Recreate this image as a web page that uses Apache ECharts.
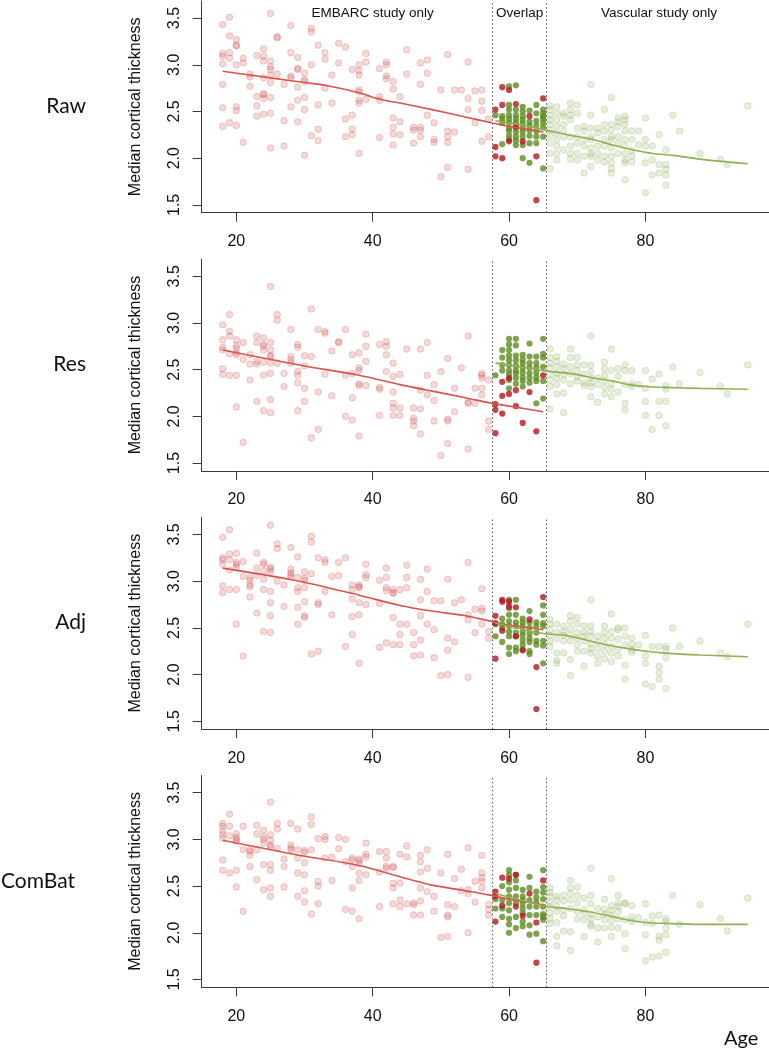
<!DOCTYPE html>
<html><head><meta charset="utf-8">
<script src="https://cdn.jsdelivr.net/npm/echarts@6/dist/echarts.min.js"></script>
<style>html,body{margin:0;padding:0;background:#fff}#c{width:769px;height:1050px}</style>
</head><body><div id="c"></div><script>
// ---------- labels & ticks ----------
const panelNames = ['Raw', 'Res', 'Adj', 'ComBat'];
const xTicks = [20, 40, 60, 80];
const yTicks = [1.5, 2.0, 2.5, 3.0, 3.5];
const regionLabels = ['EMBARC study only', 'Overlap', 'Vascular study only'];
const overlapBounds = [57.5, 65.5];

// ---------- Raw ----------
const rawEmbarc = [[18,3.43],[19,3.51],[18,3.12],[18,3.09],[18,3.01],[18,2.79],[18,2.54],[18,2.34],
[19,3.31],[19,3.13],[19,3.07],[19,2.38],[20,3.27],[20,3.21],[20,3.2],[20,3.0],[20,2.55],[20,2.51],[20,2.35],
[21,3.07],[21,3.02],[21,2.17],[22,2.9],[22,2.87],[22,2.77],[23,3.1],[23,2.66],[23,2.56],[23,2.45],
[24,3.17],[24,3.09],[24,3.04],[24,2.86],[24,2.69],[24,2.68],[24,2.64],[24,2.47],
[25,3.55],[25,3.04],[25,2.98],[25,2.95],[25,2.89],[25,2.81],[25,2.65],[25,2.48],[25,2.11],
[26,3.3],[26,3.29],[26,2.9],[27,2.79],[27,2.4],[27,2.13],[28,3.42],[28,3.13],[28,2.88],[28,2.86],[28,2.55],
[29,3.08],[29,2.96],[29,2.95],[29,2.76],[29,2.62],[29,2.39],[30,2.91],[30,2.84],[30,2.82],[30,2.65],[30,2.52],[30,2.03],
[31,3.39],[31,3.35],[31,3.0],[31,2.24],[32,3.21],[32,2.57],[32,2.31],[32,2.19],[33,3.13],[33,3.06],[33,2.75],
[34,2.89],[34,2.59],[35,3.23],[35,3.02],[36,3.19],[36,2.42],[36,2.23],[37,2.95],[37,2.46],[37,2.31],[37,2.25],
[38,3.0],[38,2.94],[38,2.89],[38,2.73],[38,2.71],[38,2.62],[38,2.59],[38,2.05],[39,3.12],[39,3.03],[39,2.63],
[41,2.96],[41,2.66],[41,2.62],[41,2.22],[42,3.03],[42,3.0],[42,2.88],[42,2.85],
[43,2.82],[43,2.74],[43,2.43],[43,2.33],[43,2.26],[43,2.14],[44,2.66],[44,2.39],[44,2.25],[45,3.16],[45,2.9],
[46,2.33],[46,2.3],[46,2.16],[47,3.02],[47,2.79],[47,2.33],[47,2.3],[47,2.23],[48,3.05],[48,2.91],[48,2.46],
[49,2.38],[49,2.2],[49,2.17],[50,2.73],[50,1.8],[51,3.11],[51,2.29],[51,2.23],[51,2.17],[51,1.9],
[52,2.73],[52,2.28],[53,2.73],[54,3.03],[54,2.64],[54,2.52],[54,1.88],[55,2.72],[55,2.38],
[56,2.73],[56,2.61],[56,2.51],[56,2.18],[57,2.42],[57,2.23]];
const rawOverlapRed = [[58,2.52],[58,2.12],[58,2.02],[59,2.76],[59,2.57],[59,2.0],[60,2.73],[60,2.18],[61,2.58],[61,2.34],[62,2.18],[63,2.45],[64,2.02],[64,1.55],[65,2.64]];
const rawOverlapGreen = [[60,2.77],[61,2.78],[58,2.46],[59,2.45],[59,2.42],[59,2.38],[59,2.15],
[60,2.57],[60,2.52],[60,2.46],[60,2.42],[60,2.38],[60,2.32],[60,2.29],[60,2.24],[60,2.2],
[61,2.52],[61,2.46],[61,2.42],[61,2.38],[61,2.32],[61,2.28],[61,2.23],[61,2.19],[61,2.14],
[62,2.55],[62,2.5],[62,2.45],[62,2.41],[62,2.37],[62,2.32],[62,2.28],[62,2.23],[62,2.14],[62,2.0],
[63,2.51],[63,2.39],[63,2.35],[63,2.3],[63,2.24],[63,2.16],[63,1.95],
[64,2.57],[64,2.48],[64,2.4],[64,2.35],[64,2.29],[64,2.23],[64,2.16],
[65,2.52],[65,2.48],[65,2.45],[65,2.42],[65,2.38],[65,2.33],[65,2.23],[65,1.89]];
const rawVascular = [[66,2.56],[66,2.52],[66,2.46],[66,2.41],[66,2.36],[66,2.3],[66,2.24],[66,2.16],[66,2.05],[66,1.89],
[67,2.55],[67,2.48],[67,2.41],[67,2.34],[67,2.27],[67,2.2],[67,2.13],[67,2.05],[67,1.98],
[68,2.48],[68,2.45],[68,2.36],[68,2.29],[68,2.23],[68,2.09],[69,2.59],[69,2.52],[69,2.46],[69,2.41],[69,2.23],[69,2.13],[69,2.05],[69,1.99],
[70,2.57],[70,2.48],[70,2.32],[70,2.23],[70,2.16],[70,2.05],[70,1.98],[71,2.34],[71,2.29],[71,2.2],[71,2.13],[71,2.02],[71,1.84],
[72,2.79],[72,2.46],[72,2.32],[72,2.23],[72,2.2],[72,2.11],[72,2.05],[72,2.02],[72,1.91],[73,2.32],[73,2.27],[73,2.13],[73,2.05],[73,1.98],
[74,2.52],[74,2.36],[74,2.29],[74,2.2],[74,2.13],[74,2.02],[74,1.96],
[75,2.65],[75,2.36],[75,2.3],[75,2.23],[75,2.2],[75,2.11],[75,2.02],[75,1.95],[75,1.89],[75,1.84],
[76,2.43],[76,2.39],[76,2.34],[76,2.23],[76,2.16],[76,2.05],
[77,2.45],[77,2.41],[77,2.36],[77,2.29],[77,2.2],[77,2.13],[77,2.05],[77,1.98],[77,1.95],[77,1.77],
[78,2.29],[78,2.2],[78,2.08],[78,2.02],[78,1.96],[79,2.29],[79,2.14],[80,2.43],[80,2.2],[80,2.13],[80,1.95],[80,1.63],
[81,2.13],[81,1.98],[81,1.82],[82,2.25],[82,1.93],[82,1.84],[83,2.09],[83,1.93],[83,1.88],[83,1.82],[83,1.71],
[84,2.46],[85,2.29],[88,2.05],[91,1.99],[92,1.93],[95,2.56]];
const rawRedLine = [[18,2.93],[25,2.86],[30,2.81],[33,2.78],[38,2.7],[41,2.63],[44,2.59],[48.7,2.52],[53.6,2.44],[57.4,2.38],[60,2.34],[65,2.28]];
const rawGreenLine = [[58,2.4],[62,2.35],[65.4,2.3],[69.3,2.24],[72.3,2.2],[75.2,2.14],[78.1,2.09],[81.1,2.05],[84.1,2.03],[88,1.99],[95,1.94]];

// ---------- Res ----------
const resEmbarc = [[18,2.98],[18,2.82],[18,2.74],[18,2.71],[18,2.51],[18,2.45],[19,3.09],[19,2.91],[19,2.86],[19,2.67],[19,2.44],
[20,2.82],[20,2.76],[20,2.73],[20,2.68],[20,2.66],[20,2.44],[20,2.1],[21,2.79],[21,2.61],[21,1.72],[22,2.66],[22,2.56],[22,2.39],
[23,2.86],[23,2.79],[23,2.59],[23,2.56],[23,2.16],[24,2.84],[24,2.77],[24,2.75],[24,2.71],[24,2.58],[24,2.44],[24,2.06],
[25,3.39],[25,2.79],[25,2.71],[25,2.65],[25,2.64],[25,2.57],[25,2.46],[25,2.18],[25,2.04],[26,3.09],[26,3.03],[26,2.57],
[27,2.46],[27,2.32],[28,2.93],[28,2.64],[28,2.61],[28,2.57],[29,2.77],[29,2.74],[29,2.48],[29,2.44],[29,2.36],[29,2.06],
[30,2.65],[30,2.54],[30,2.3],[30,2.16],[31,3.15],[31,2.64],[31,1.77],[32,2.93],[32,2.26],[32,1.86],[33,2.91],[33,2.89],[33,2.45],
[34,2.7],[34,2.22],[35,2.8],[35,2.79],[36,2.93],[36,2.44],[36,2.0],[37,2.66],[37,2.46],[37,2.2],[37,1.96],
[38,2.68],[38,2.52],[38,2.49],[38,2.35],[38,2.33],[38,1.79],[39,2.88],[39,2.75],[39,2.59],[39,2.33],
[41,2.77],[41,2.31],[41,2.29],[41,2.01],[42,2.8],[42,2.75],[42,2.66],[42,2.48],[43,2.57],[43,2.43],[43,2.26],[43,2.14],[43,2.09],[43,2.01],
[44,2.45],[44,2.09],[44,2.01],[45,2.72],[46,2.09],[46,1.98],[46,1.95],[46,1.9],[47,2.72],[47,2.28],[47,2.08],[47,1.81],
[48,2.79],[48,2.44],[48,2.23],[49,2.34],[49,2.17],[49,1.95],[50,2.48],[50,1.58],[51,2.62],[51,1.97],[51,1.95],[51,1.71],
[52,2.3],[52,2.05],[53,2.52],[54,2.86],[54,2.15],[54,2.14],[54,1.65],[55,2.3],[55,2.14],
[56,2.46],[56,2.44],[56,2.41],[56,2.3],[56,2.23],[57,2.39],[57,1.95],[57,1.86]];
const resOverlapRed = [[58,2.13],[58,2.07],[58,1.82],[59,2.37],[59,2.22],[59,2.03],[60,2.41],[60,2.24],[61,2.28],[61,2.11],[62,1.93],[63,2.26],[64,1.84],[65,2.44]];
const resOverlapGreen = [[58,2.44],[59,2.71],[59,2.63],[59,2.55],[59,2.49],
[60,2.83],[60,2.77],[60,2.71],[60,2.65],[60,2.6],[60,2.55],[60,2.49],[60,2.45],[60,2.39],[60,2.3],
[61,2.83],[61,2.76],[61,2.65],[61,2.6],[61,2.54],[61,2.49],[61,2.46],[61,2.41],[61,2.35],
[62,2.66],[62,2.61],[62,2.57],[62,2.52],[62,2.47],[62,2.42],[62,2.38],[62,2.32],
[63,2.78],[63,2.64],[63,2.57],[63,2.52],[63,2.46],[63,2.41],[63,2.36],
[64,2.64],[64,2.57],[64,2.52],[64,2.47],[64,2.42],[64,2.38],[64,2.14],
[65,2.83],[65,2.67],[65,2.63],[65,2.53],[65,2.38],[65,2.19]];
const resVascular = [[66,2.72],[66,2.63],[66,2.57],[66,2.52],[66,2.45],[66,2.39],[66,2.32],[66,2.08],
[67,2.64],[67,2.59],[67,2.53],[67,2.46],[67,2.41],[67,2.34],[67,2.24],[68,2.56],[68,2.51],[68,2.45],[68,2.39],[68,2.25],[68,2.04],
[69,2.72],[69,2.63],[69,2.53],[69,2.46],[69,2.35],[70,2.63],[70,2.55],[70,2.49],[70,2.42],[70,2.38],
[71,2.55],[71,2.45],[71,2.36],[71,2.33],[72,2.86],[72,2.55],[72,2.48],[72,2.41],[72,2.36],[72,2.32],[72,2.21],
[73,2.41],[73,2.34],[73,2.15],[74,2.58],[74,2.51],[74,2.44],[74,2.38],[74,2.31],[74,2.24],
[75,2.72],[75,2.49],[75,2.35],[75,2.29],[75,2.21],[76,2.51],[76,2.43],[76,2.26],
[77,2.55],[77,2.49],[77,2.34],[77,2.14],[77,2.07],[78,2.49],[78,2.35],[78,2.32],[79,2.34],
[80,2.49],[80,2.3],[80,2.16],[80,2.01],[81,2.4],[81,1.86],[82,2.45],[82,2.16],[82,2.01],
[83,2.33],[83,2.29],[83,2.16],[83,1.9],[84,2.53],[85,2.35],[88,2.47],[91,2.32],[92,2.24],[95,2.55]];
const resRedLine = [[18,2.71],[29.2,2.55],[38,2.44],[44,2.34],[48.7,2.27],[53.6,2.2],[57.4,2.14],[60,2.11],[65,2.05]];
const resGreenLine = [[58,2.57],[60,2.55],[65,2.49],[69.8,2.45],[72.3,2.41],[75.2,2.38],[77.6,2.34],[80.1,2.32],[83,2.31],[88,2.3],[95,2.29]];

// ---------- Adj ----------
const adjEmbarc = [[18,3.47],[18,3.25],[18,3.23],[18,3.18],[18,2.95],[18,2.88],[19,3.55],[19,3.29],[19,3.23],[19,3.12],[19,2.91],
[20,3.3],[20,3.2],[20,3.18],[20,3.15],[20,2.91],[20,2.54],[21,3.21],[21,3.05],[21,2.2],
[22,3.04],[22,3.01],[22,2.96],[22,2.94],[22,2.83],[23,3.3],[23,3.14],[23,3.06],[23,2.66],
[24,3.2],[24,3.18],[24,3.11],[24,3.02],[24,2.91],[24,2.46],[25,3.6],[25,3.15],[25,3.13],[25,3.1],[25,2.89],[25,2.77],[25,2.63],[25,2.45],
[26,3.4],[26,3.35],[26,3.0],[27,2.96],[27,2.73],[28,3.36],[28,3.13],[28,3.09],[28,3.07],[28,3.05],
[29,3.26],[29,3.04],[29,2.93],[29,2.89],[29,2.72],[29,2.54],[30,3.1],[30,3.03],[30,3.01],[30,2.93],[30,2.78],[30,2.63],[30,2.61],
[31,3.48],[31,3.42],[31,3.08],[31,2.22],[32,3.25],[32,2.77],[32,2.75],[32,2.25],[33,3.23],[33,3.2],[33,2.89],
[34,3.05],[34,2.64],[35,3.2],[35,3.06],[36,3.25],[36,2.3],[37,2.96],[37,2.91],[37,2.81],[37,2.62],[37,2.43],
[38,2.96],[38,2.94],[38,2.93],[38,2.77],[38,2.64],[38,2.12],[39,3.18],[39,3.07],[39,3.04],[39,2.75],
[41,3.01],[41,2.76],[41,2.29],[42,3.14],[42,3.04],[42,2.93],[42,2.9],[42,2.34],[43,2.91],[43,2.88],[43,2.87],[43,2.61],[43,2.32],
[44,2.91],[44,2.54],[44,2.43],[44,2.32],[45,3.17],[45,3.04],[45,2.93],[45,2.54],[46,2.45],[46,2.32],[46,2.2],
[47,3.02],[47,2.8],[47,2.63],[47,2.37],[47,2.21],[48,3.13],[48,2.89],[48,2.54],[49,2.79],[49,2.48],[49,2.18],
[50,2.79],[50,1.99],[51,3.02],[51,2.39],[51,2.26],[51,2.0],[52,2.77],[52,2.35],[53,2.8],
[54,3.2],[54,2.64],[54,2.59],[54,1.97],[55,2.7],[55,2.45],[56,2.92],[56,2.71],[56,2.68],[56,2.54],[57,2.46],[57,2.39]];
const adjOverlapRed = [[58,2.63],[58,2.55],[58,2.17],[59,2.8],[59,2.78],[59,2.47],[60,2.78],[60,2.73],[61,2.72],[61,2.41],[62,2.26],[63,2.59],[64,2.08],[64,1.63],[65,2.83]];
const adjOverlapGreen = [[58,2.54],[58,2.41],[59,2.6],[59,2.54],[59,2.5],[59,2.35],
[60,2.8],[60,2.71],[60,2.64],[60,2.57],[60,2.52],[60,2.46],[60,2.41],[60,2.29],[60,2.22],
[61,2.8],[61,2.64],[61,2.56],[61,2.52],[61,2.45],[61,2.41],[61,2.29],[61,2.25],
[62,2.6],[62,2.56],[62,2.52],[62,2.46],[62,2.42],[62,2.37],[62,2.32],[62,2.27],
[63,2.68],[63,2.56],[63,2.5],[63,2.44],[63,2.39],[63,2.35],[63,2.25],[63,2.22],
[64,2.56],[64,2.52],[64,2.45],[64,2.36],[64,2.32],[65,2.74],[65,2.64],[65,2.55],[65,2.52],[65,2.36],[65,2.31],[65,2.12]];
const adjVascular = [[66,2.59],[66,2.54],[66,2.48],[66,2.42],[66,2.36],[66,2.3],[67,2.54],[67,2.45],[67,2.38],[67,2.23],[67,2.15],[67,2.12],
[68,2.52],[68,2.46],[68,2.42],[68,2.36],[68,2.23],[69,2.63],[69,2.57],[69,2.49],[69,2.42],[69,2.36],[69,2.16],[69,1.99],
[70,2.61],[70,2.54],[70,2.45],[70,2.39],[70,2.32],[70,2.25],[71,2.52],[71,2.45],[71,2.41],[71,2.36],[71,2.25],[71,2.09],
[72,2.8],[72,2.52],[72,2.46],[72,2.41],[72,2.33],[72,2.28],[72,2.23],[73,2.41],[73,2.35],[73,2.28],[73,2.2],[73,2.12],
[74,2.52],[74,2.45],[74,2.39],[74,2.32],[74,2.25],[74,2.17],[75,2.65],[75,2.46],[75,2.39],[75,2.3],[75,2.23],[75,2.14],
[76,2.5],[76,2.48],[76,2.38],[76,2.27],[76,2.2],[77,2.5],[77,2.41],[77,2.32],[77,2.1],[77,1.95],
[78,2.39],[78,2.32],[78,2.27],[78,2.24],[79,2.32],[80,2.42],[80,2.2],[80,2.12],[80,1.9],[81,2.3],[81,1.87],
[82,2.3],[82,2.09],[82,2.02],[82,1.95],[83,2.3],[83,2.27],[83,2.18],[83,1.85],[84,2.5],[85,2.3],[88,2.36],[91,2.23],[92,2.19],[95,2.54]];
const adjRedLine = [[18,3.14],[29.2,3.0],[38,2.85],[44,2.74],[48.7,2.68],[53.6,2.63],[57.4,2.57],[60,2.53],[65,2.48]];
const adjGreenLine = [[58,2.55],[65,2.44],[68.3,2.42],[71.3,2.37],[74.2,2.32],[77.2,2.28],[80.1,2.25],[83,2.23],[88,2.21],[95,2.19]];

// ---------- ComBat ----------
const combatEmbarc = [[18,3.17],[18,3.14],[18,3.09],[18,3.05],[18,3.01],[18,2.78],[18,2.67],[19,3.27],[19,3.14],[19,3.04],[19,2.64],
[20,3.06],[20,3.02],[20,3.0],[20,2.98],[20,2.67],[20,2.49],[21,3.14],[21,2.89],[21,2.23],[22,2.89],[22,2.87],[22,2.83],[22,2.71],
[23,3.15],[23,3.06],[23,2.89],[23,2.57],[24,3.1],[24,3.03],[24,3.0],[24,2.96],[24,2.73],[24,2.46],
[25,3.4],[25,3.05],[25,2.99],[25,2.94],[25,2.92],[25,2.73],[25,2.67],[25,2.48],[25,2.39],[26,3.17],[26,3.11],[26,2.9],
[27,2.79],[27,2.71],[27,2.49],[28,3.17],[28,2.94],[28,2.91],[28,2.89],[29,3.11],[29,2.89],[29,2.8],[29,2.64],[29,2.39],
[30,2.88],[30,2.86],[30,2.75],[30,2.62],[30,2.45],[30,2.33],[31,3.24],[31,3.16],[31,2.89],[31,2.2],
[32,3.01],[32,2.55],[32,2.5],[32,2.31],[33,3.03],[33,3.0],[33,2.8],[34,2.81],[34,2.56],[35,3.02],[35,2.9],
[36,3.0],[36,2.76],[36,2.25],[37,2.8],[37,2.78],[37,2.71],[37,2.48],[37,2.23],[38,2.79],[38,2.77],[38,2.74],[38,2.64],[38,2.56],[38,2.15],
[39,2.96],[39,2.84],[39,2.81],[39,2.62],[41,2.87],[41,2.65],[41,2.28],[42,2.87],[42,2.8],[42,2.71],[42,2.69],
[43,2.71],[43,2.7],[43,2.53],[43,2.48],[43,2.31],[44,2.84],[44,2.53],[44,2.35],[44,2.28],[45,2.93],[45,2.81],[45,2.31],
[46,2.32],[46,2.3],[46,2.19],[47,2.83],[47,2.76],[47,2.65],[47,2.48],[47,2.34],[47,2.19],[48,2.89],[48,2.69],[48,2.44],
[49,2.39],[49,2.23],[50,2.64],[50,1.95],[51,2.84],[51,2.3],[51,2.19],[51,2.17],[51,1.96],[52,2.58],[52,2.28],[53,2.68],[53,2.45],
[54,2.91],[54,2.46],[54,2.42],[54,2.0],[55,2.55],[55,2.33],[56,2.83],[56,2.64],[56,2.59],[56,2.55],[56,2.48],[57,2.3],[57,2.25],[57,2.19]];
const combatOverlapRed = [[58,2.44],[58,2.39],[58,2.12],[59,2.59],[59,2.29],[60,2.58],[61,2.62],[61,2.28],[62,2.18],[63,2.42],[64,2.11],[64,1.68],[65,2.56]];
const combatOverlapGreen = [[58,2.36],[58,2.26],[59,2.5],[59,2.35],[59,2.26],[59,2.17],
[60,2.67],[60,2.62],[60,2.54],[60,2.46],[60,2.39],[60,2.32],[60,2.24],[60,2.15],[60,2.09],[60,2.0],
[61,2.62],[61,2.56],[61,2.48],[61,2.39],[61,2.32],[61,2.17],[61,2.05],
[62,2.46],[62,2.39],[62,2.35],[62,2.31],[62,2.26],[62,2.21],[62,2.12],[62,2.07],
[63,2.6],[63,2.48],[63,2.35],[63,2.28],[63,2.19],[63,2.08],[63,1.98],[64,2.44],[64,2.38],[64,2.33],[64,2.28],[64,2.19],[64,1.99],
[65,2.67],[65,2.49],[65,2.43],[65,2.36],[65,2.28],[65,2.2],[65,2.17],[65,2.14],[65,1.91]];
const combatVascular = [[66,2.48],[66,2.43],[66,2.39],[66,2.33],[66,2.28],[66,2.21],[66,2.15],[66,2.1],
[67,2.39],[67,2.35],[67,2.28],[67,2.23],[67,2.11],[67,1.96],[67,1.86],[68,2.4],[68,2.34],[68,2.24],[68,2.18],[68,2.02],
[69,2.56],[69,2.48],[69,2.42],[69,2.35],[69,2.26],[69,2.01],[69,1.81],[70,2.49],[70,2.4],[70,2.32],[70,2.23],[70,2.15],
[71,2.37],[71,2.25],[71,2.21],[71,2.14],[71,1.96],[72,2.69],[72,2.4],[72,2.31],[72,2.2],[72,2.15],[72,2.09],[72,2.07],
[73,2.26],[73,2.17],[73,2.05],[73,1.9],[74,2.36],[74,2.25],[74,2.2],[74,2.14],[74,2.05],
[75,2.58],[75,2.29],[75,2.24],[75,2.19],[75,2.13],[75,2.06],[75,1.96],[76,2.4],[76,2.32],[76,2.28],[76,2.23],[76,2.15],[76,2.05],
[77,2.32],[77,2.31],[77,2.14],[77,1.99],[77,1.83],[78,2.29],[78,2.17],[78,2.12],[79,2.16],
[80,2.31],[80,2.11],[80,1.98],[80,1.7],[81,2.18],[81,2.1],[81,1.74],[82,2.19],[82,1.96],[82,1.92],[82,1.75],
[83,2.15],[83,2.12],[83,2.05],[83,1.98],[83,1.79],[84,2.4],[85,2.09],[88,2.3],[91,2.15],[92,2.02],[95,2.37]];
const combatRedLine = [[18,2.99],[29.2,2.83],[38,2.72],[44,2.6],[48.7,2.51],[53.6,2.45],[57.4,2.4],[60,2.36],[65,2.3]];
const combatGreenLine = [[58,2.42],[65,2.29],[68.3,2.26],[71.3,2.23],[74.2,2.19],[77.2,2.14],[80.1,2.11],[83,2.1],[88,2.09],[95,2.09]];

// ---------- build ----------
const panels = [
  {embarc: rawEmbarc, oRed: rawOverlapRed, oGreen: rawOverlapGreen, vasc: rawVascular, rLine: rawRedLine, gLine: rawGreenLine},
  {embarc: resEmbarc, oRed: resOverlapRed, oGreen: resOverlapGreen, vasc: resVascular, rLine: resRedLine, gLine: resGreenLine},
  {embarc: adjEmbarc, oRed: adjOverlapRed, oGreen: adjOverlapGreen, vasc: adjVascular, rLine: adjRedLine, gLine: adjGreenLine},
  {embarc: combatEmbarc, oRed: combatOverlapRed, oGreen: combatOverlapGreen, vasc: combatVascular, rLine: combatRedLine, gLine: combatGreenLine}
];

const PANEL_STEP = 258.2, PANEL_TOP = 0.9, PANEL_H = 211.8, LEFT = 201.7, WIDTH = 567;
const AX = '#3a3a3a', TXT = '#111';
const tickFont = 'Liberation Sans, Helvetica, Arial, sans-serif';
const rowLabelRight = [86, 86, 86, 75];

const grids = [], xAxes = [], yAxes = [], series = [], graphics = [];
panels.forEach((p, i) => {
  const top = PANEL_TOP + i * PANEL_STEP;
  grids.push({left: LEFT, width: WIDTH, top: top, height: PANEL_H, containLabel: false});
  xAxes.push({
    gridIndex: i, type: 'value', min: 14.92, max: 98.08, splitLine: {show: false},
    axisLine: {show: true, onZero: false, lineStyle: {color: AX, width: 1}},
    axisTick: {show: true, customValues: xTicks, length: 9, lineStyle: {color: AX, width: 1}},
    axisLabel: {show: true, customValues: xTicks, margin: 21, fontSize: 16, color: TXT, fontFamily: tickFont}
  });
  yAxes.push({
    gridIndex: i, type: 'value', min: 1.416, max: 3.684, splitLine: {show: false},
    name: 'Median cortical thickness', nameLocation: 'middle', nameRotate: 90, nameGap: 58,
    nameTextStyle: {fontSize: 16, color: TXT, fontFamily: tickFont},
    axisLine: {show: true, onZero: false, lineStyle: {color: AX, width: 1}},
    axisTick: {show: true, customValues: yTicks, length: 9, lineStyle: {color: AX, width: 1}},
    axisLabel: {show: true, customValues: yTicks, rotate: 90, margin: 19, fontSize: 16, color: TXT, fontFamily: tickFont,
      formatter: v => Number(v).toFixed(1)}
  });
  const common = {xAxisIndex: i, yAxisIndex: i, silent: true, animation: false};
  series.push(Object.assign({type: 'scatter', data: p.embarc, symbolSize: 6.5, z: 2,
    itemStyle: {color: 'rgba(210,85,85,0.28)', borderColor: 'rgba(200,80,80,0.38)', borderWidth: 0.8},
    markLine: {silent: true, symbol: ['none', 'none'], label: {show: false},
      lineStyle: {type: [1.5, 2.5], color: '#555', width: 1},
      data: overlapBounds.map(v => ({xAxis: v}))}}, common));
  series.push(Object.assign({type: 'scatter', data: p.vasc, symbolSize: 6.5, z: 2,
    itemStyle: {color: 'rgba(150,180,100,0.28)', borderColor: 'rgba(140,170,90,0.38)', borderWidth: 0.8}}, common));
  series.push(Object.assign({type: 'scatter', data: p.oGreen, symbolSize: 6.2, z: 3,
    itemStyle: {color: '#5f8c1f'}}, common));
  series.push(Object.assign({type: 'scatter', data: p.oRed, symbolSize: 6.2, z: 4,
    itemStyle: {color: '#b7141f'}}, common));
  series.push(Object.assign({type: 'line', data: p.rLine, smooth: 0.3, showSymbol: false, z: 5,
    lineStyle: {color: '#d9534c', width: 1.6}}, common));
  series.push(Object.assign({type: 'line', data: p.gLine, smooth: 0.3, showSymbol: false, z: 5,
    lineStyle: {color: '#8fb152', width: 1.6}}, common));
  graphics.push({type: 'text', right: 769 - rowLabelRight[i], top: top + PANEL_H / 2 - 11,
    style: {text: panelNames[i], font: '21px Lato, "Open Sans", sans-serif', fill: '#111', textAlign: 'right'}});
});

graphics.push({type: 'text', left: 724, top: 1029, style: {text: 'Age', font: '20px Lato, "Open Sans", sans-serif', fill: '#111'}});

const chart = echarts.init(document.getElementById('c'), null, {renderer: 'canvas'});
chart.setOption({
  animation: false, backgroundColor: '#fff',
  grid: grids, xAxis: xAxes, yAxis: yAxes, series: series, graphic: graphics
});
// region labels above first panel, placed through the x scale of panel 0
const labelAges = [40.0, 61.55, 82.0];
const g2 = labelAges.map((a, k) => {
  const px = chart.convertToPixel({xAxisIndex: 0}, a);
  return {type: 'text', x: px, y: 6, style: {text: regionLabels[k], font: '13.5px "Liberation Sans", Helvetica, Arial, sans-serif', fill: '#111', textAlign: 'center', textVerticalAlign: 'top'}};
});
chart.setOption({graphic: graphics.concat(g2)});
</script></body></html>
